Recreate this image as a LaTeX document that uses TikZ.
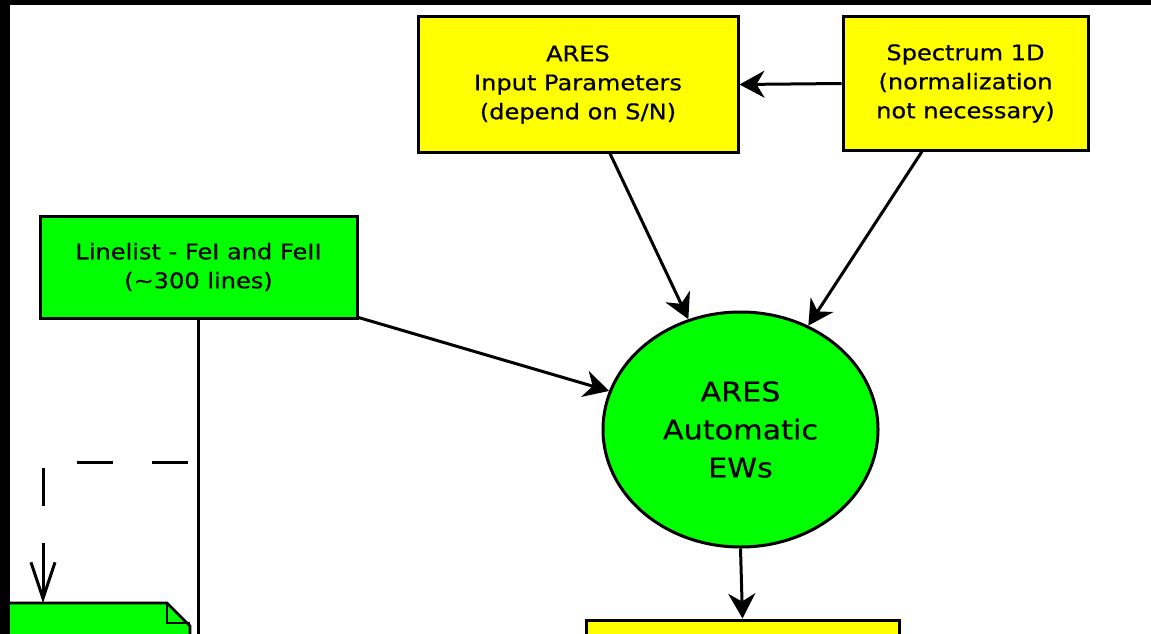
\documentclass[tikz,border=0pt]{standalone}
\usepackage{fontspec}
\setmainfont{DejaVu Sans}[FakeStretch=1.12,FakeBold=0.6]
\usetikzlibrary{arrows.meta,shapes.geometric}
\definecolor{boxyellow}{RGB}{255,255,0}
\definecolor{boxgreen}{RGB}{0,255,0}
\begin{document}
\begin{tikzpicture}[x=1pt,y=-1pt,
  box/.style={draw=black,line width=3pt,inner sep=0pt,align=center,
    font=\fontsize{21.5pt}{29pt}\selectfont},
  yellowbox/.style={box,fill=boxyellow},
  greenbox/.style={box,fill=boxgreen},
  flow/.style={line width=3pt,-{Stealth[length=25pt,width=27pt,inset=8pt]}},
  link/.style={line width=3pt},
  hint/.style={line width=3pt,
    dash pattern=on 36pt off 39pt on 36pt off 40pt on 38pt off 37pt on 200pt off 10pt,
    -{Straight Barb[length=36pt,width=24pt]}}]
\useasboundingbox (0,0) rectangle (1151,634);
\clip (0,0) rectangle (1151,634);
\fill[white] (0,0) rectangle (1151,634);

% inputs
\node[yellowbox,minimum width=320pt,minimum height=135pt] (inparam) at (578,84.5)
  {ARES\\Input Parameters\\(depend on S/N)};
\node[yellowbox,minimum width=245pt,minimum height=133pt] (spectrum) at (965.5,83.5)
  {Spectrum 1D\\(normalization\\not necessary)};
\node[greenbox,minimum width=317pt,minimum height=102pt] (linelist) at (198.5,267)
  {Linelist - FeI and FeII\\(\textasciitilde300 lines)};

% EW measurement
\node[ellipse,draw=black,fill=boxgreen,line width=3pt,inner sep=0pt,align=center,
  minimum width=275pt,minimum height=235pt,
  font=\fontsize{27pt}{38pt}\selectfont] (ares) at (740.5,429.5)
  {ARES\\Automatic\\EWs};

% output box (continues below)
\node[yellowbox,minimum width=313pt,minimum height=100pt] (result) at (742.5,670) {};

% document with folded corner (continues below)
\filldraw[fill=boxgreen,draw=black,line width=2.6pt]
  (-20,603) -- (167,603) -- (190,626) -- (190,700) -- (-20,700) -- cycle;
\draw[line width=2.2pt] (167,603) -- (167,623) -- (190,623);
\coordinate (doctop) at (43,603);

% connectors
\draw[flow] (spectrum.west) -- (inparam.east);
\draw[flow] ([xshift=32pt]inparam.south) -- (ares);
\draw[flow] ([xshift=-43.5pt]spectrum.south) -- (ares);
\draw[flow] ([yshift=2pt]linelist.south east) -- (ares);
\draw[flow] (ares.south) -- (result.north);

\coordinate (linedown) at (198.5,700);
\draw[link] (linelist.south) -- (linedown);

\coordinate (dstart) at (188,462);
\coordinate (dcorner) at (43,462);
\draw[hint] (dstart) -- (dcorner) -- (doctop);

% frame strips
\fill[black] (0,0) rectangle (1151,5);
\fill[black] (0,0) rectangle (10,634);
\end{tikzpicture}
\end{document}
